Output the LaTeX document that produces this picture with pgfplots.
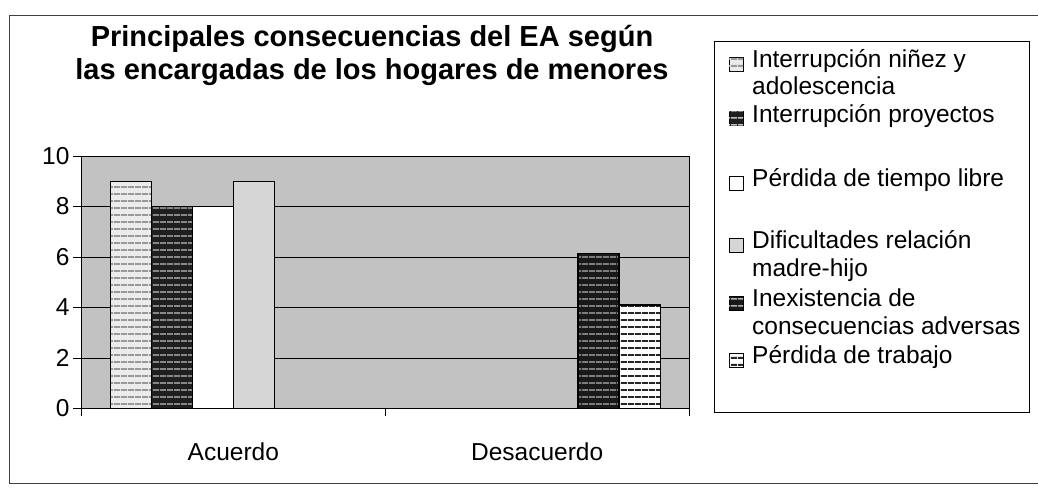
\documentclass[border=0pt]{standalone}
\usepackage{fontspec}
\setmainfont{Liberation Sans}
\usepackage{pgfplots}
\pgfplotsset{compat=1.18}
\usetikzlibrary{patterns,patterns.meta}
\tikzset{
  s1/.style={draw=black, line width=1.3pt, fill=black!8, postaction={pattern={Lines[angle=0,distance=6.5pt,line width=2pt]}, pattern color=black!40}},
  s2/.style={draw=black, line width=1.3pt, fill=black!88, postaction={pattern={Lines[angle=0,distance=6.5pt,line width=1.5pt]}, pattern color=black!25}},
  s3/.style={draw=black, line width=1.3pt, fill=white},
  s4/.style={draw=black, line width=1.3pt, fill=black!16},
  s5/.style={draw=black, line width=1.3pt, fill=black!90, postaction={pattern={Lines[angle=0,distance=6.5pt,line width=1.5pt]}, pattern color=black!30}},
  s6/.style={draw=black, line width=1.3pt, fill=white, postaction={pattern={Lines[angle=0,distance=6.5pt,line width=2pt]}, pattern color=black!85}},
}
\begin{document}
\begin{tikzpicture}[x=1pt,y=1pt]
\useasboundingbox (-81.5,-79.5) rectangle (956.5,408.5);
\draw[black!75, line width=0.9pt] (956.5,393.5) -- (-72.5,393.5) -- (-72.5,-74.5) -- (956.5,-74.5);
\node[anchor=base, font=\fontsize{29}{34}\selectfont\bfseries] at (290.5,361.5) {Principales consecuencias del EA según};
\node[anchor=base, font=\fontsize{29}{34}\selectfont\bfseries] at (290.5,328.5) {las encargadas de los hogares de menores};
\begin{axis}[
  scale only axis, width=607.5pt, height=252.5pt,
  ybar=0pt, bar width=0.135,
  xmin=-0.5, xmax=1.5, ymin=0, ymax=10,
  ytick={0,2,4,6,8,10},
  xtick pos=bottom, ytick pos=left,
  ymajorgrids, grid style={black, line width=0.7pt},
  axis background/.style={fill=black!24},
  axis line style={black, line width=1pt},
  xtick={0,1}, xticklabels={Acuerdo,Desacuerdo},
  major x tick style={draw=none},
  extra x ticks={-0.5,0.5,1.5}, extra x tick labels={},
  extra x tick style={grid=none, tick align=outside, xtick pos=bottom, major tick length=7pt, major x tick style={draw=black, line width=0.8pt}},
  ytick align=outside, major tick length=8.5pt,
  tick style={black, line width=0.8pt},
  /pgf/number format/assume math mode=true,
  ticklabel style={font=\fontsize{24.5}{28}\selectfont},
  xticklabel style={anchor=base, yshift=-43.5pt},
  yticklabel style={anchor=east},
]
\addplot[s1] coordinates {(0,9)};
\addplot[s2] coordinates {(0,8)};
\addplot[s3] coordinates {(0,8)};
\addplot[s4] coordinates {(0,9)};
\addplot[s5] coordinates {(1,6.15)};
\addplot[s6] coordinates {(1,4.1)};
\end{axis}
% legend
\draw[black, line width=1pt] (632.5,-3.5) rectangle (947.5,366.5);
\begin{scope}[every node/.style={anchor=base west, inner sep=0pt, font=\fontsize{24.5}{28}\selectfont}]
\draw[s1, line width=1pt] (647.5,{408.5-68-4}) rectangle ++(14,14);
\node at (670.5,{408.5-68}) {Interrupción niñez y};
\node at (670.5,{408.5-95}) {adolescencia};
\draw[s2, line width=1pt] (647.5,{408.5-122-4}) rectangle ++(14,14);
\node at (670.5,{408.5-122}) {Interrupción proyectos};
\draw[s3, line width=1pt] (647.5,{408.5-186-4}) rectangle ++(14,14);
\node at (670.5,{408.5-186}) {Pérdida de tiempo libre};
\draw[s4, line width=1pt] (647.5,{408.5-248-4}) rectangle ++(14,14);
\node at (670.5,{408.5-248}) {Dificultades relación};
\node at (670.5,{408.5-276}) {madre-hijo};
\draw[s5, line width=1pt] (647.5,{408.5-306-4}) rectangle ++(14,14);
\node at (670.5,{408.5-306}) {Inexistencia de};
\node at (670.5,{408.5-334}) {consecuencias adversas};
\draw[s6, line width=1pt] (647.5,{408.5-363-4}) rectangle ++(14,14);
\node at (670.5,{408.5-363}) {Pérdida de trabajo};
\end{scope}
\end{tikzpicture}
\end{document}
